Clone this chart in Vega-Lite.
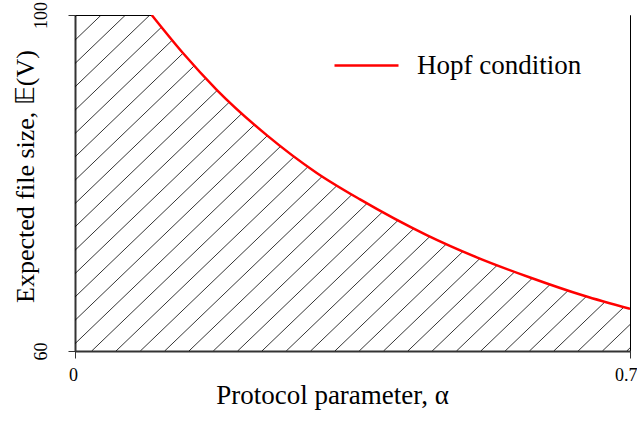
{
  "$schema": "https://vega.github.io/schema/vega-lite/v6.json",
  "width": 555,
  "height": 336,
  "autosize": "none",
  "padding": {"left": 75, "top": 15, "right": 7, "bottom": 71},
  "background": "white",
  "config": {
    "view": {"stroke": "black", "strokeWidth": 1},
    "font": "Liberation Serif",
    "axis": {
      "grid": false, "domainColor": "#333", "domainWidth": 2,
      "tickColor": "#333", "tickSize": 7, "tickWidth": 1,
      "labelFont": "Liberation Serif", "labelFontSize": 18, "labelColor": "black",
      "labelFlush": false,
      "titleFont": "Liberation Serif", "titleFontSize": 27, "titleFontWeight": "normal", "titleColor": "black"
    }
  },
  "datasets": {
    "hatch": [
      {"a": -0.43907, "b": 0.00238}, {"a": -0.40839, "b": 0.03306}, {"a": -0.37772, "b": 0.06373},
      {"a": -0.34704, "b": 0.09441}, {"a": -0.31637, "b": 0.12508}, {"a": -0.28569, "b": 0.15576},
      {"a": -0.25502, "b": 0.18643}, {"a": -0.22434, "b": 0.21711}, {"a": -0.19367, "b": 0.24778},
      {"a": -0.16299, "b": 0.27846}, {"a": -0.13232, "b": 0.30913}, {"a": -0.10164, "b": 0.33981},
      {"a": -0.07097, "b": 0.37048}, {"a": -0.04029, "b": 0.40116}, {"a": -0.00962, "b": 0.43183},
      {"a": 0.02106, "b": 0.46251}, {"a": 0.05174, "b": 0.49319}, {"a": 0.08241, "b": 0.52386},
      {"a": 0.11309, "b": 0.55454}, {"a": 0.14376, "b": 0.58521}, {"a": 0.17444, "b": 0.61589},
      {"a": 0.20511, "b": 0.64656}, {"a": 0.23579, "b": 0.67724}, {"a": 0.26646, "b": 0.70791},
      {"a": 0.29714, "b": 0.73859}, {"a": 0.32781, "b": 0.76926}, {"a": 0.35849, "b": 0.79994},
      {"a": 0.38916, "b": 0.83061}, {"a": 0.41984, "b": 0.86129}, {"a": 0.45051, "b": 0.89196},
      {"a": 0.48119, "b": 0.92264}, {"a": 0.51186, "b": 0.95331}, {"a": 0.54254, "b": 0.98399},
      {"a": 0.57321, "b": 1.01466}, {"a": 0.60389, "b": 1.04534}, {"a": 0.63456, "b": 1.07601},
      {"a": 0.66524, "b": 1.10669}, {"a": 0.69591, "b": 1.13736}
    ],
    "curve": [
      {"alpha": 0.0967, "V": 100.0, "s": "Hopf condition"},
      {"alpha": 0.1358, "V": 95.5, "s": "Hopf condition"},
      {"alpha": 0.1787, "V": 91.1, "s": "Hopf condition"},
      {"alpha": 0.2418, "V": 85.7, "s": "Hopf condition"},
      {"alpha": 0.3049, "V": 81.2, "s": "Hopf condition"},
      {"alpha": 0.3595, "V": 78.05, "s": "Hopf condition"},
      {"alpha": 0.4436, "V": 73.8, "s": "Hopf condition"},
      {"alpha": 0.5067, "V": 71.15, "s": "Hopf condition"},
      {"alpha": 0.5739, "V": 68.75, "s": "Hopf condition"},
      {"alpha": 0.6411, "V": 66.6, "s": "Hopf condition"},
      {"alpha": 0.7000, "V": 65.01, "s": "Hopf condition"}
    ]
  },
  "encoding": {
    "x": {
      "type": "quantitative",
      "scale": {"domain": [0, 0.7], "nice": false, "zero": false},
      "title": "Protocol parameter, α",
      "axis": {
        "values": [0, 0.7], "format": ".1~f", "labelPadding": 8, "titlePadding": -2, "titleX": 257,
        "labelAlign": {"condition": {"test": "datum.value > 0.5", "value": "right"}, "value": "center"},
        "labelOffset": {"condition": {"test": "datum.value > 0.5", "value": 7}, "value": -2}
      }
    },
    "y": {
      "type": "quantitative",
      "scale": {"domain": [60, 100], "nice": false, "zero": false},
      "title": "Expected file size, 𝔼(V)",
      "axis": {"values": [60, 100], "labelAngle": -90, "labelAlign": "center", "labelBaseline": "bottom", "labelPadding": 18, "titlePadding": -6, "titleY": 161, "titleFontSize": 26}
    }
  },
  "layer": [
    {
      "data": {"name": "hatch"},
      "mark": {"type": "rule", "clip": true, "color": "black", "strokeWidth": 0.8},
      "encoding": {
        "x": {"field": "a", "type": "quantitative", "title": "Protocol parameter, α"},
        "x2": {"field": "b"},
        "y": {"datum": 60, "type": "quantitative", "title": "Expected file size, 𝔼(V)"},
        "y2": {"datum": 100}
      }
    },
    {
      "data": {"name": "curve"},
      "mark": {"type": "area", "clip": true, "fill": "white", "opacity": 1, "interpolate": "monotone"},
      "encoding": {
        "x": {"field": "alpha", "type": "quantitative", "title": "Protocol parameter, α"},
        "y": {"field": "V", "type": "quantitative", "title": "Expected file size, 𝔼(V)"},
        "y2": {"datum": 100}
      }
    },
    {
      "data": {"name": "curve"},
      "mark": {"type": "line", "clip": true, "strokeWidth": 2.5, "interpolate": "monotone"},
      "encoding": {
        "x": {"field": "alpha", "type": "quantitative", "title": "Protocol parameter, α"},
        "y": {"field": "V", "type": "quantitative", "title": "Expected file size, 𝔼(V)"},
        "color": {
          "field": "s", "type": "nominal",
          "scale": {"domain": ["Hopf condition"], "range": ["#ff0000"]},
          "legend": {
            "title": null, "orient": "none", "legendX": 258, "legendY": 17,
            "padding": 0,
            "symbolType": "stroke", "symbolSize": 4096, "symbolStrokeWidth": 2.5,
            "labelFont": "Liberation Serif", "labelFontSize": 27, "labelColor": "black", "labelOffset": 17,
            "labelLimit": 400
          }
        }
      }
    }
  ]
}
